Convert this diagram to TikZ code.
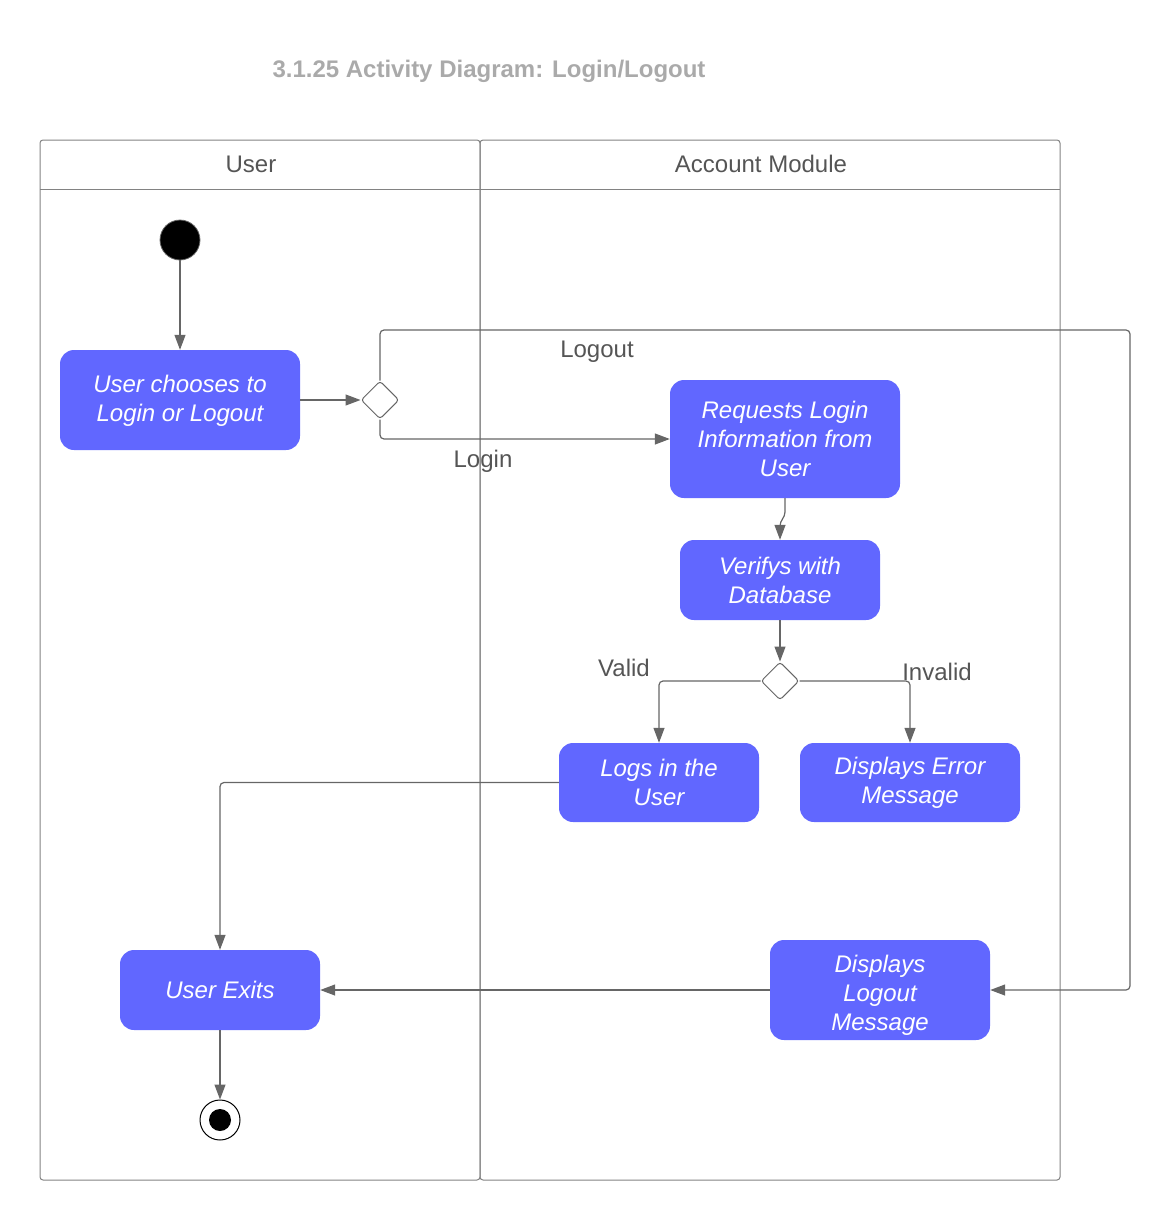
\documentclass[tikz,border=0pt]{standalone}
\usepackage{fontspec}
\setmainfont{Liberation Sans}
\usetikzlibrary{arrows.meta,shapes.geometric}
\definecolor{actblue}{RGB}{97,103,255}
\definecolor{linegray}{RGB}{102,102,102}
\definecolor{lanegray}{RGB}{130,130,130}
\definecolor{txtgray}{RGB}{85,85,85}
\definecolor{titlegray}{RGB}{170,170,170}
\tikzset{
  act/.style={rectangle, rounded corners=14pt, fill=actblue, draw=none, text=white,
    font=\fontsize{24}{29}\selectfont\itshape, align=center, inner sep=0pt},
  dec/.style={diamond, draw=linegray, line width=1pt, fill=white, rounded corners=3pt,
    minimum width=38pt, minimum height=38pt, inner sep=0pt},
  arr/.style={draw=linegray, line width=1.2pt, rounded corners=4pt,
    -{Triangle[length=15pt,width=11pt]}},
  lane/.style={draw=lanegray, line width=1pt, rounded corners=3pt},
  lbl/.style={text=txtgray, font=\fontsize{24}{29}\selectfont, inner sep=0pt},
  hdr/.style={text=txtgray, font=\fontsize{24}{29}\selectfont, inner sep=0pt},
}
\begin{document}
\begin{tikzpicture}[x=1pt,y=-1pt]
\useasboundingbox (0,0) rectangle (1170,1220);
% title
\node[text=titlegray, font=\fontsize{24}{29}\selectfont\bfseries, inner sep=0pt] (title) at (489,71) {3.1.25 Activity Diagram: Login/Logout};
% lanes
\draw[lane] (40,140) rectangle (480,1180);
\draw[lane] (480,140) rectangle (1060,1180);
\draw[draw=lanegray, line width=1pt] (40,189) -- (1060,189);
\node[hdr] (hu) at (251,164) {User};
\node[hdr] (ha) at (761,164) {Account Module};
% nodes
\node[circle, fill=black, draw=linegray, line width=0.8pt, minimum size=40pt, inner sep=0pt] (start) at (180,240) {};
\node[act, minimum width=240pt, minimum height=100pt] (choose) at (180,400) {\rule{0pt}{19pt}User chooses to\\Login or Logout};
\node[dec] (d1) at (380,400) {};
\node[act, minimum width=230pt, minimum height=118pt] (req) at (785,439) {Requests Login\\Information from\\User};
\node[act, minimum width=200pt, minimum height=80pt] (ver) at (780,580) {Verifys with\\Database};
\node[dec] (d2) at (780,681) {};
\node[act, minimum width=200pt, minimum height=79pt] (logs) at (659,782.5) {Logs in the\\User};
\node[act, minimum width=220pt, minimum height=79pt] (err) at (910,782.5) {Displays Error\\Message};
\node[act, minimum width=200pt, minimum height=80pt] (exit) at (220,990) {User Exits};
\node[act, minimum width=220pt, minimum height=100pt] (logm) at (880,990) {\rule{0pt}{27pt}Displays\\Logout\\Message};
\node[circle, draw=black, line width=1pt, fill=white, minimum size=40pt, inner sep=0pt] (endo) at (220,1120) {};
\node[circle, fill=black, minimum size=22pt, inner sep=0pt] (endi) at (220,1120) {};
\coordinate (lo) at (1130,330);
% connectors
\draw[arr] (start) -- (choose.north);
\draw[arr] (choose.east) -- (d1.west);
\draw[arr] (d1.north) |- (lo) |- (logm.east);
\draw[arr] (d1.south) |- (req.west);
\draw[arr] (req.south) -- (785,516) -- (780,522) -- (ver.north);
\draw[arr] (ver.south) -- (d2.north);
\draw[arr] (d2.west) -| (logs.north);
\draw[arr] (d2.east) -| (err.north);
\draw[arr] (logs.west) -| (exit.north);
\draw[arr] (logm.west) -- (exit.east);
\draw[arr] (exit.south) -- (endo.north);
% labels
\node[lbl] (llogout) at (597,352) {Logout};
\node[lbl] (llogin) at (483,461) {Login};
\node[lbl] (lvalid) at (624,668) {Valid};
\node[lbl] (linvalid) at (937,672) {Invalid};
\end{tikzpicture}
\end{document}
